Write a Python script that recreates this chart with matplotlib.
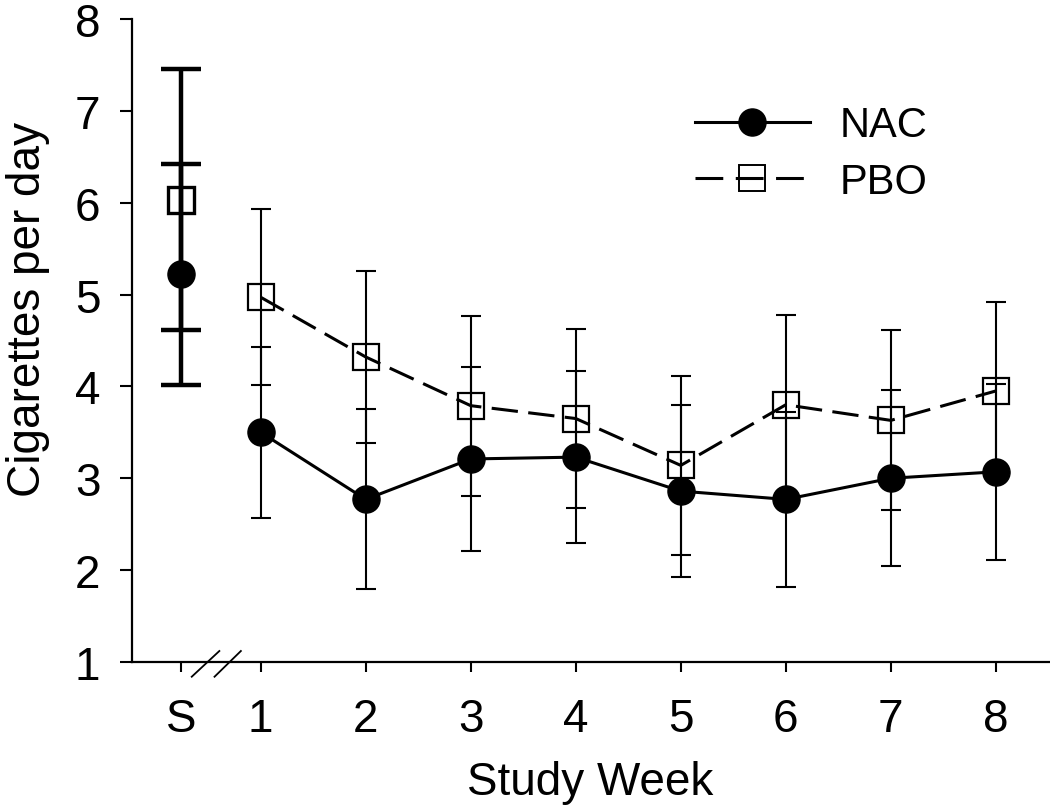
import numpy as np
import matplotlib
matplotlib.use("Agg")
import matplotlib.pyplot as plt

# ---------------- data ----------------
categories = ["S", "1", "2", "3", "4", "5", "6", "7", "8"]
weeks = [1, 2, 3, 4, 5, 6, 7, 8]

nac_screen = 5.22
nac_screen_err = 1.20
pbo_screen = 6.03
pbo_screen_err = 1.42

nac = [3.50, 2.77, 3.21, 3.23, 2.86, 2.77, 3.00, 3.07]
nac_err = [0.93, 0.98, 1.00, 0.94, 0.94, 0.95, 0.96, 0.96]
pbo = [4.97, 4.32, 3.79, 3.65, 3.14, 3.80, 3.63, 3.95]
pbo_err = [0.96, 0.94, 0.98, 0.97, 0.97, 0.98, 0.98, 0.97]

y_ticks = [1, 2, 3, 4, 5, 6, 7, 8]
series_labels = ["NAC", "PBO"]

# ---------------- style ----------------
plt.rcParams["font.family"] = ["Liberation Sans", "DejaVu Sans"]
plt.rcParams["lines.scale_dashes"] = False

fig = plt.figure(figsize=(10.5, 8.12), dpi=100)
ax = fig.add_axes([0.1254, 0.1835, 0.874, 0.792])

screen_gap = 0.76
x_weeks = np.array(weeks, dtype=float)
x_screen = x_weeks[0] - screen_gap
x_all = np.concatenate([[x_screen], x_weeks])

ms = 19.5
dash = (0, (19, 7.5))

# screening error bars (thick)
ax.errorbar([x_screen], [pbo_screen], yerr=[pbo_screen_err], fmt="none",
            ecolor="black", elinewidth=3.2, capsize=14.5, capthick=3.2, zorder=2)
ax.errorbar([x_screen], [nac_screen], yerr=[nac_screen_err], fmt="none",
            ecolor="black", elinewidth=3.2, capsize=14.5, capthick=3.2, zorder=2)

# weekly error bars (thin)
ax.errorbar(x_weeks, pbo, yerr=pbo_err, fmt="none", ecolor="black",
            elinewidth=1.5, capsize=7, capthick=1.5, zorder=2)
ax.errorbar(x_weeks, nac, yerr=nac_err, fmt="none", ecolor="black",
            elinewidth=1.5, capsize=7, capthick=1.5, zorder=2)

# lines + markers
ax.plot(x_weeks, pbo, linestyle=dash, color="black", linewidth=2.2,
        marker="s", markersize=ms - 1, markerfacecolor="none",
        markeredgecolor="black", markeredgewidth=1.6, zorder=3)
ax.plot([x_screen], [pbo_screen], linestyle="none", marker="s",
        markersize=ms - 1, markerfacecolor="none", markeredgecolor="black",
        markeredgewidth=2.4, zorder=3)
ax.plot(x_weeks, nac, linestyle="-", color="black", linewidth=2.2,
        marker="o", markersize=ms, markerfacecolor="black",
        markeredgecolor="black", zorder=4)
ax.plot([x_screen], [nac_screen], linestyle="none", marker="o",
        markersize=ms, markerfacecolor="black", markeredgecolor="black",
        zorder=4)

# legend handles
h_nac, = ax.plot([], [], linestyle="-", color="black", linewidth=2.2,
                 marker="o", markersize=ms, markerfacecolor="black")
h_pbo, = ax.plot([], [], linestyle=(0, (20, 9)), color="black", linewidth=2.2,
                 marker="s", markersize=ms - 1, markerfacecolor="none",
                 markeredgewidth=1.4)
fig.legend([h_nac, h_pbo], series_labels, loc="upper left",
           bbox_to_anchor=(0.662, 0.869), frameon=False, fontsize=30,
           handlelength=2.75, handletextpad=0.72, borderpad=0,
           borderaxespad=0, labelspacing=0.39, numpoints=1)

# axes
ax.set_xlim(-0.229, 8.51)
ax.set_ylim(1, 8)
ax.set_xticks(x_all)
ax.set_xticklabels(categories)
ax.set_yticks(y_ticks)
ax.set_yticklabels([str(v) for v in y_ticks])
ax.spines["top"].set_visible(False)
ax.spines["right"].set_visible(False)
ax.spines["left"].set_linewidth(1.6)
ax.spines["bottom"].set_linewidth(1.6)
ax.tick_params(axis="x", direction="out", length=7.5, width=1.5,
               labelsize=33, pad=18)
ax.tick_params(axis="y", direction="out", length=8.5, width=1.5,
               labelsize=33, pad=14)

ax.set_xlabel("Study Week", fontsize=33)
ax.set_ylabel("Cigarettes per day", fontsize=33)
ax.xaxis.set_label_coords(0.5, -0.152)
ax.yaxis.set_label_coords(-0.089, 0.55)

# axis-break marks between S and week 1
trans = ax.get_xaxis_transform()
for x0, x1 in [(0.343, 0.606), (0.560, 0.811)]:
    ax.plot([x0, x1], [-0.0229, 0.0171], color="black", linewidth=1.3,
            transform=trans, clip_on=False, zorder=5)

fig.savefig("out.png", dpi=100)
